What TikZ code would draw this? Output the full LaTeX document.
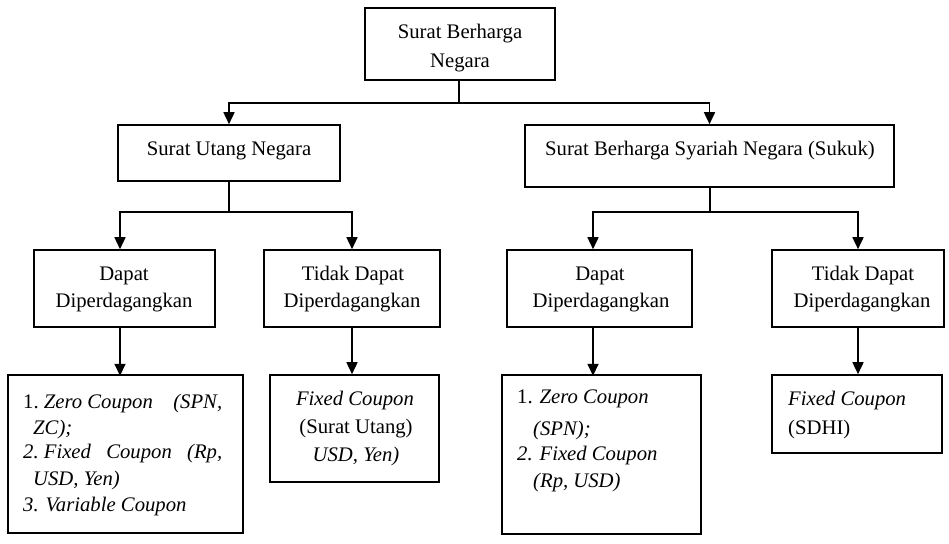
\documentclass[tikz,border=0pt]{standalone}
\usepackage{fontspec}
\setmainfont{Liberation Serif}
\usetikzlibrary{arrows.meta,calc}
\begin{document}
\begin{tikzpicture}[x=1pt,y=-1pt,
  box/.style={draw, line width=1.6pt, rectangle, inner sep=0pt},
  txt/.style={inner sep=0pt, text height=14.5pt, text depth=4.5pt, font=\fontsize{20.7}{27}\selectfont},
  ln/.style={line width=1.6pt},
  arr/.style={line width=1.6pt, -{Triangle[width=11pt,length=12pt]}}]
\useasboundingbox (0,0) rectangle (949,543);
% boxes
\node[box, minimum width=190pt, minimum height=72pt] (top) at (460,44) {};
\node[box, minimum width=222pt, minimum height=56pt] (sun) at (229,153) {};
\node[box, minimum width=369pt, minimum height=62pt] (sbsn) at (709.5,156) {};
\node[box, minimum width=181pt, minimum height=77pt] (dapL) at (124.5,288.5) {};
\node[box, minimum width=176pt, minimum height=77pt] (tdL) at (352,288.5) {};
\node[box, minimum width=185pt, minimum height=77pt] (dapR) at (599.5,288.5) {};
\node[box, minimum width=172pt, minimum height=77pt] (tdR) at (858,288.5) {};
\node[box, minimum width=235pt, minimum height=158pt] (b1) at (125.5,454) {};
\node[box, minimum width=169pt, minimum height=107pt] (b2) at (354.5,428.5) {};
\node[box, minimum width=199pt, minimum height=159pt] (b3) at (601.5,454.5) {};
\node[box, minimum width=170pt, minimum height=78pt] (b4) at (857,414) {};
% texts
\node[txt] (tt1) at (460,33) {Surat Berharga};
\node[txt] (tt2) at (460,62) {Negara};
\node[txt] (tsun) at (229,150) {Surat Utang Negara};
\node[txt] (tsbsn) at (710,150) {Surat Berharga Syariah Negara (Sukuk)};
\node[txt] (tdl1) at (124,275) {Dapat};
\node[txt] (tdl2) at (124,302) {Diperdagangkan};
\node[txt] (ttl1) at (353,275) {Tidak Dapat};
\node[txt] (ttl2) at (352,302) {Diperdagangkan};
\node[txt] (tdr1) at (600,275) {Dapat};
\node[txt] (tdr2) at (601,302) {Diperdagangkan};
\node[txt] (ttr1) at (863,275) {Tidak Dapat};
\node[txt] (ttr2) at (862,302) {Diperdagangkan};
% box 1
\node[txt, anchor=west] (a1) at (23,403) {\makebox[199pt][l]{1.\kern0.25em\textit{Zero Coupon}\hfill\textit{(SPN,}}};
\node[txt, anchor=west] (a2) at (33,429) {\textit{ZC);}};
\node[txt, anchor=west] (a3) at (23,453) {\makebox[199pt][s]{\textit{2.\kern0.25em Fixed Coupon (Rp,}}};
\node[txt, anchor=west] (a4) at (33,480) {\textit{USD, Yen)}};
\node[txt, anchor=west] (a5) at (23,506) {\textit{3. Variable Coupon}};
% box 2
\node[txt] (c1) at (355,400) {\textit{Fixed Coupon}};
\node[txt] (c2) at (356,428) {(Surat Utang)};
\node[txt] (c3) at (356,456) {\textit{USD, Yen)}};
% box 3
\node[txt, anchor=west] (d1) at (517,398) {1. \textit{Zero Coupon}};
\node[txt, anchor=west] (d2) at (533,430) {\textit{(SPN);}};
\node[txt, anchor=west] (d3) at (517,455) {\textit{2. Fixed Coupon}};
\node[txt, anchor=west] (d4) at (533,482) {\textit{(Rp, USD)}};
% box 4
\node[txt, anchor=west] (e1) at (788,400) {\textit{Fixed Coupon}};
\node[txt, anchor=west] (e2) at (788,429) {(SDHI)};
% connectors
\coordinate (j0) at (459,103);
\coordinate (jL) at (229,212);
\coordinate (jR) at (710,212);
\draw[ln] (top.south -| j0) -- (j0);
\draw[arr] (j0) -| (sun.north);
\draw[arr] (j0) -| (sbsn.north);
\draw[ln] (sun.south -| jL) -- (jL);
\draw[arr] (jL) -| ($(dapL.north)+(-4.5,0)$);
\draw[arr] (jL) -| (tdL.north);
\draw[ln] (sbsn.south -| jR) -- (jR);
\draw[arr] (jR) -| ($(dapR.north)+(-6.5,0)$);
\draw[arr] (jR) -| (tdR.north);
\draw[arr] ($(dapL.south)+(-4.5,0)$) -- ++(0,48);
\draw[arr] (tdL.south) -- (tdL.south |- b2.north);
\draw[arr] ($(dapR.south)+(-6.5,0)$) -- ++(0,48);
\draw[arr] (tdR.south) -- (tdR.south |- b4.north);
\end{tikzpicture}
\end{document}
